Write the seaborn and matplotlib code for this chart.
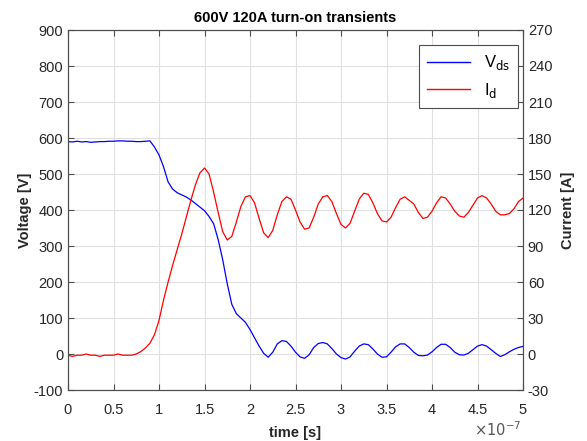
import numpy as np
import pandas as pd
import matplotlib
matplotlib.use("Agg")
import matplotlib.pyplot as plt
import seaborn as sns

# time in units of 1e-7 s
time = [round(0.05 * i, 2) for i in range(101)]

vds = [590, 589, 591, 589, 590, 588, 589, 590, 590, 591,
       591, 592, 592, 591, 591, 590, 590, 591, 592, 575,
       553, 520, 478, 458, 448, 442, 436, 428, 418, 408,
       398, 382, 362, 318, 262, 195, 138, 112, 100, 88,
       68, 45, 22, 2, -9, 5, 28, 37, 35, 22,
       5, -8, -12, -2, 18, 29, 32, 28, 15, 0,
       -10, -14, -8, 8, 22, 28, 26, 14, 0, -9,
       -8, 5, 20, 28, 28, 18, 5, -4, -5, -3,
       6, 18, 27, 27, 18, 5, -2, -3, 2, 12,
       22, 26, 22, 12, 2, -7, -2, 6, 13, 18, 21]

idrain = [-1, -2, -1, -1, 0, -1, -1, -2, -1, -1,
          -1, 0, -1, -1, -1, 0, 2, 5, 9, 16,
          28, 45, 60, 74, 87, 100, 114, 128, 141, 151,
          155, 150, 135, 118, 102, 95, 98, 110, 123, 131,
          132, 126, 113, 101, 97, 103, 116, 127, 131, 129,
          120, 110, 104, 105, 114, 125, 131, 132, 127, 117,
          108, 105, 109, 119, 129, 134, 133, 126, 117, 111,
          110, 114, 122, 129, 131, 128, 125, 118, 113, 114,
          119, 126, 131, 130, 125, 119, 115, 114, 118, 124,
          130, 132, 130, 125, 119, 116, 116, 117, 121, 127, 130]

df = pd.DataFrame({"t": time, "Vds": vds, "Id": idrain})

plt.rcParams['font.family'] = ['Liberation Sans', 'DejaVu Sans']
plt.rcParams['axes.unicode_minus'] = False
fig = plt.figure(figsize=(5.87, 4.41), dpi=100)
ax = fig.add_axes([68/587, 1-390/441, (523-68)/587, 360/441])
ax2 = ax.twinx()

axcol = '#4d4d4d'
txtcol = '#262626'

sns.lineplot(data=df, x="t", y="Vds", ax=ax, color=(0, 0, 1), lw=0.9, legend=False)
sns.lineplot(data=df, x="t", y="Id", ax=ax2, color=(1, 0, 0), lw=0.9, legend=False)

ax.set_xlim(0, 5)
ax.set_ylim(-100, 900)
ax2.set_ylim(-30, 270)
ax.set_xticks(np.arange(0, 5.01, 0.5))
ax.set_xticklabels(["0", "0.5", "1", "1.5", "2", "2.5", "3", "3.5", "4", "4.5", "5"])
ax.set_yticks(np.arange(-100, 901, 100))
ax2.set_yticks(np.arange(-30, 271, 30))

ax.grid(True, color='#e0e0e0', lw=0.8)
ax.set_axisbelow(True)
for a in (ax, ax2):
    for s in a.spines.values():
        s.set_color(axcol)
        s.set_linewidth(0.8)
    a.tick_params(direction='in', length=4, width=0.8, color=axcol, labelsize=10.5,
                  labelcolor=txtcol, pad=3.5)
ax.tick_params(axis='x', top=True, pad=9)

ax.set_xlabel("time [s]", fontweight='bold', fontsize=10.5, color=txtcol, labelpad=7)
ax.set_ylabel("Voltage [V]", fontweight='bold', fontsize=10.5, color=txtcol, labelpad=1)
ax2.set_ylabel("Current [A]", fontweight='bold', fontsize=10.5, color=txtcol, labelpad=6)
ax.set_title("600V 120A turn-on transients", fontweight='bold', fontsize=10.5, pad=6)
ax.text(0.995, -0.111, r"$\times10^{-7}$", transform=ax.transAxes, ha='right', va='center',
        fontsize=10.5, color='#555555')

h1, = ax.plot([], [], color=(0, 0, 1), lw=1.0)
h2, = ax.plot([], [], color=(1, 0, 0), lw=1.0)
leg = ax2.legend([h1, h2], [r"V$_{\rm ds}$", r"I$_{\rm d}$"], loc='upper right',
                 bbox_to_anchor=(0.989, 0.958), borderaxespad=0, fontsize=12,
                 frameon=True, fancybox=False, edgecolor=axcol, handlelength=2.6,
                 borderpad=0.5, labelspacing=0.5, framealpha=1)
leg.get_frame().set_linewidth(0.8)

fig.savefig("out.png", dpi=100)
